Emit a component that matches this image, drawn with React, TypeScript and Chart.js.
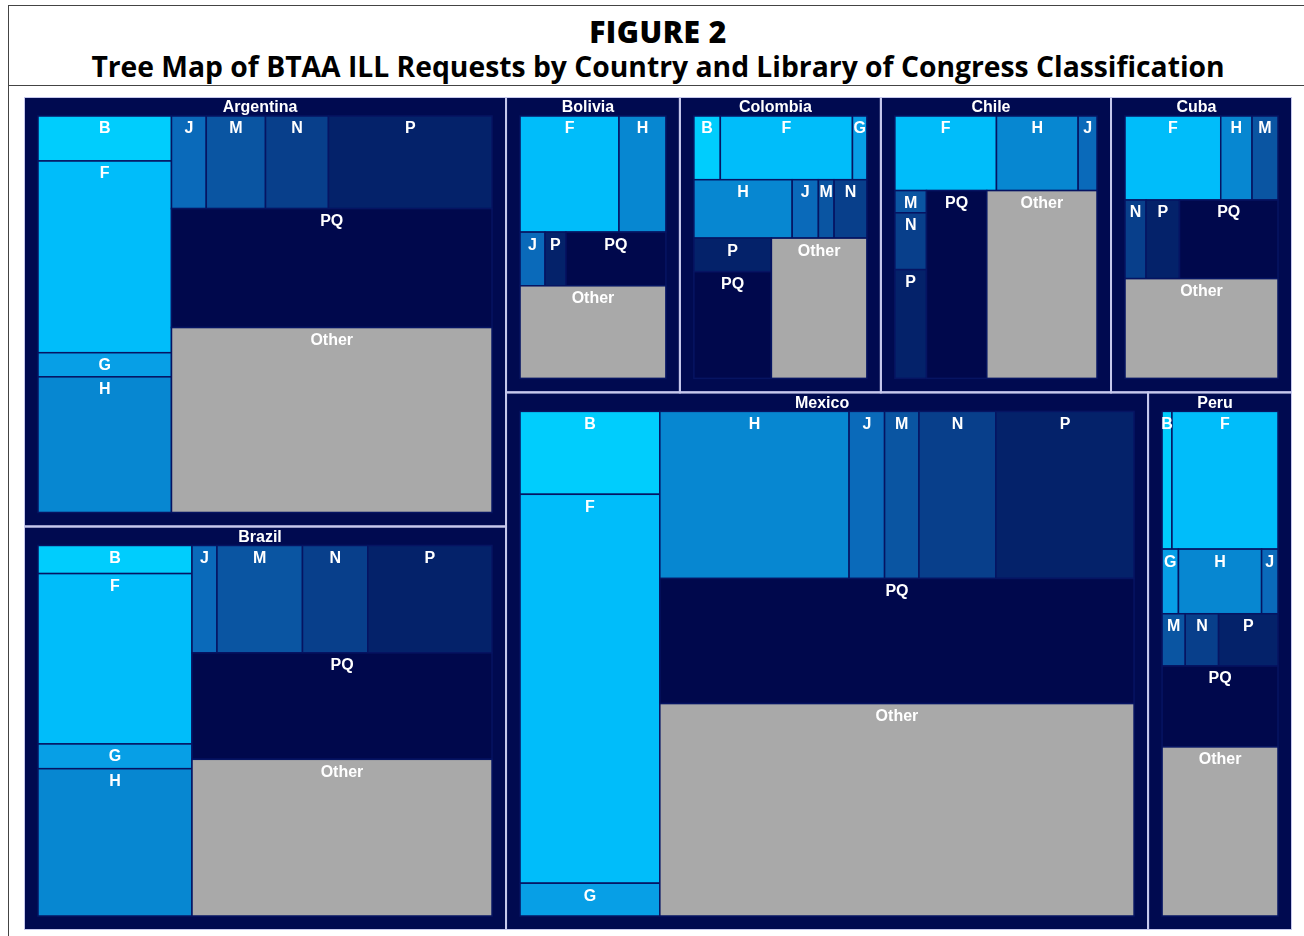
import React, { useEffect, useRef } from 'react';
import { Chart, registerables } from 'chart.js';

Chart.register(...registerables);

// ---------- DATA ----------
const countries = ['Argentina', 'Brazil', 'Bolivia', 'Colombia', 'Chile', 'Cuba', 'Mexico', 'Peru'];
const classes = ['B', 'F', 'G', 'H', 'J', 'M', 'N', 'P', 'PQ', 'Other'];
// requests per LC class (same order as `classes`), 0 = none
const argentina = [69, 294, 37, 208, 37, 63, 67, 174, 438, 681];
const brazil = [50, 303, 44, 262, 31, 106, 81, 154, 369, 543];
const bolivia = [0, 154, 0, 73, 18, 0, 0, 15, 72, 181];
const colombia = [22, 110, 12, 75, 20, 12, 25, 34, 108, 175];
const chile = [0, 97, 0, 78, 18, 9, 23, 44, 145, 265];
const cuba = [0, 107, 0, 35, 0, 29, 22, 35, 103, 203];
const mexico = [129, 605, 51, 352, 66, 64, 143, 257, 660, 1121];
const peru = [18, 193, 14, 71, 14, 16, 23, 41, 124, 259];
const countryValues = [argentina, brazil, bolivia, colombia, chile, cuba, mexico, peru];

const classColors = ['#00cdfd', '#00bdfa', '#079fe6', '#0787d1', '#0a6aba', '#0a55a2', '#083f8b', '#04226a', '#00084c', '#a9a9a9'];
const BG = '#000a50';
const COUNTRY_BORDER = '#c6c8ec';
const CELL_BORDER = '#061462';

// ---------- LAYOUT (d3-style squarify) ----------
const W = 1268;
const H = 833;
const PAD_SIDE = 14;
const PAD_TOP = 19;
const PHI = (1 + Math.sqrt(5)) / 2;

type Node = { name: string; value: number; idx: number; x0: number; y0: number; x1: number; y1: number };

function dice(nodes: Node[], x0: number, y0: number, x1: number, y1: number, value: number) {
  const k = value ? (x1 - x0) / value : 0;
  let x = x0;
  for (const n of nodes) { n.y0 = y0; n.y1 = y1; n.x0 = x; x += n.value * k; n.x1 = x; }
}
function slice(nodes: Node[], x0: number, y0: number, x1: number, y1: number, value: number) {
  const k = value ? (y1 - y0) / value : 0;
  let y = y0;
  for (const n of nodes) { n.x0 = x0; n.x1 = x1; n.y0 = y; y += n.value * k; n.y1 = y; }
}
function squarify(nodes: Node[], x0: number, y0: number, x1: number, y1: number) {
  let value = nodes.reduce((s, n) => s + n.value, 0);
  let i0 = 0, i1 = 0;
  const n = nodes.length;
  while (i0 < n) {
    const dx = x1 - x0, dy = y1 - y0;
    let sumValue = 0;
    do { sumValue = nodes[i1++].value; } while (!sumValue && i1 < n);
    let minValue = sumValue, maxValue = sumValue;
    const alpha = Math.max(dy / dx, dx / dy) / (value * PHI);
    let beta = sumValue * sumValue * alpha;
    let minRatio = Math.max(maxValue / beta, beta / minValue);
    for (; i1 < n; ++i1) {
      const nv = nodes[i1].value;
      sumValue += nv;
      if (nv < minValue) minValue = nv;
      if (nv > maxValue) maxValue = nv;
      beta = sumValue * sumValue * alpha;
      const newRatio = Math.max(maxValue / beta, beta / minValue);
      if (newRatio > minRatio) { sumValue -= nv; break; }
      minRatio = newRatio;
    }
    const row = nodes.slice(i0, i1);
    if (dx < dy) {
      const yy = value ? y0 + (dy * sumValue) / value : y1;
      dice(row, x0, y0, x1, yy, sumValue);
      y0 = yy;
    } else {
      const xx = value ? x0 + (dx * sumValue) / value : x1;
      slice(row, x0, y0, xx, y1, sumValue);
      x0 = xx;
    }
    value -= sumValue;
    i0 = i1;
  }
}

function buildLayout() {
  const top: Node[] = countries.map((c, i) => ({
    name: c, idx: i, value: countryValues[i].reduce((a, b) => a + b, 0), x0: 0, y0: 0, x1: 0, y1: 0,
  }));
  squarify(top, 0, 0, W, H);
  return top.map((cn) => {
    const kids: Node[] = countryValues[cn.idx]
      .map((v, j) => ({ name: classes[j], idx: j, value: v, x0: 0, y0: 0, x1: 0, y1: 0 }))
      .filter((k) => k.value > 0);
    squarify(kids, cn.x0 + PAD_SIDE, cn.y0 + PAD_TOP, cn.x1 - PAD_SIDE, cn.y1 - PAD_SIDE);
    return { country: cn, kids };
  });
}

const FONT = "bold 16px 'Liberation Sans', Arial, Helvetica, sans-serif";

const treemapPlugin = {
  id: 'treemapCells',
  afterDraw(chart: any) {
    const { ctx } = chart;
    const xs = chart.scales.x;
    const ys = chart.scales.y;
    const px = (v: number) => xs.getPixelForValue(v);
    const py = (v: number) => ys.getPixelForValue(v);
    const layout = buildLayout();
    ctx.save();
    ctx.fillStyle = BG;
    ctx.fillRect(px(0), py(0), px(W) - px(0), py(H) - py(0));
    for (const { country, kids } of layout) {
      for (const k of kids) {
        const x0 = px(k.x0), x1 = px(k.x1), y0 = py(k.y0), y1 = py(k.y1);
        ctx.fillStyle = classColors[k.idx];
        ctx.fillRect(x0, y0, x1 - x0, y1 - y0);
        ctx.strokeStyle = CELL_BORDER;
        ctx.lineWidth = 1.5;
        ctx.strokeRect(x0, y0, x1 - x0, y1 - y0);
      }
      const cx0 = px(country.x0), cx1 = px(country.x1), cy0 = py(country.y0), cy1 = py(country.y1);
      ctx.strokeStyle = COUNTRY_BORDER;
      ctx.lineWidth = 2;
      ctx.strokeRect(cx0, cy0, cx1 - cx0, cy1 - cy0);
    }
    ctx.fillStyle = '#ffffff';
    ctx.font = FONT;
    ctx.textAlign = 'center';
    ctx.textBaseline = 'middle';
    for (const { country, kids } of layout) {
      ctx.fillText(country.name, (px(country.x0) + px(country.x1)) / 2 - 5, py(country.y0) + 11);
      for (const k of kids) {
        ctx.fillText(k.name, (px(k.x0) + px(k.x1)) / 2, py(k.y0) + 13);
      }
    }
    ctx.restore();
  },
};

export default function App() {
  const ref = useRef<HTMLCanvasElement>(null);
  useEffect(() => {
    if (!ref.current) return;
    const chart = new Chart(ref.current, {
      type: 'scatter',
      data: { datasets: [{ data: [] }] },
      options: {
        animation: false,
        responsive: false,
        layout: { padding: 0 },
        plugins: { legend: { display: false }, tooltip: { enabled: false }, title: { display: false } },
        scales: {
          x: { type: 'linear', min: 0, max: W, display: false },
          y: { type: 'linear', min: 0, max: H, reverse: true, display: false },
        },
      },
      plugins: [treemapPlugin],
    } as any);
    return () => chart.destroy();
  }, []);

  return (
    <div style={{ position: 'absolute', left: 0, top: 0, width: 1304, height: 936, overflow: 'hidden', background: '#fff' }}>
      <div style={{ position: 'absolute', left: 8, top: 5, width: 1400, height: 1000, borderLeft: '1.5px solid #444', borderTop: '1.5px solid #444' }} />
      <div style={{ position: 'absolute', left: 8, top: 85, width: 1400, height: 0, borderTop: '1.5px solid #444' }} />
      <div style={{ position: 'absolute', left: 8, width: 1300, top: 17, textAlign: 'center', fontFamily: "'Open Sans', sans-serif", fontWeight: 800, fontSize: 30, lineHeight: '30px', letterSpacing: 0.5, color: '#000' }}>
        FIGURE 2
      </div>
      <div style={{ position: 'absolute', left: 8, width: 1300, top: 52, textAlign: 'center', fontFamily: "'Open Sans', sans-serif", fontWeight: 700, fontSize: 28, lineHeight: '28px', color: '#000' }}>
        <span style={{ display: 'inline-block', transform: 'scaleX(1.01)', whiteSpace: 'nowrap' }}>
          Tree Map of BTAA ILL Requests by Country and Library of Congress Classification
        </span>
      </div>
      <canvas ref={ref} width={W} height={H} style={{ position: 'absolute', left: 24, top: 97, width: W, height: H }} />
    </div>
  );
}
